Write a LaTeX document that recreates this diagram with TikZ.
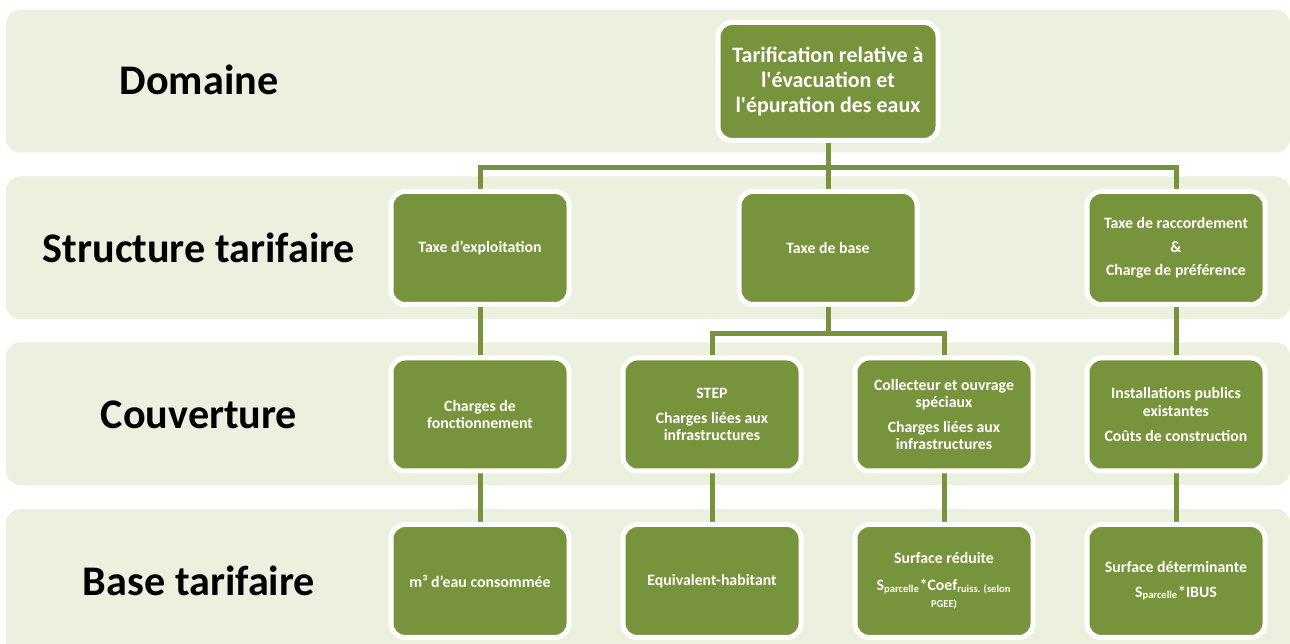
\documentclass[tikz,border=0pt]{standalone}
\usepackage{fontspec}
\setmainfont{Carlito}
\usetikzlibrary{positioning}

\definecolor{olive}{HTML}{77933C}
\definecolor{paleolive}{HTML}{EBF1DE}

\pgfdeclarelayer{bands}
\pgfdeclarelayer{links}
\pgfsetlayers{bands,links,main}

\begin{document}
\begin{tikzpicture} [
    thick,
    node distance=3.33cm,
  ]

  \tikzstyle{box} = [
    rectangle,
    rounded corners=8pt,
    minimum width=3.56cm,
    minimum height=2.26cm,
    align=center,
    fill=olive,
    draw=white,
    line width=0.1cm,
    text=white,
    font=\fontsize{9}{10}\selectfont\bfseries,
  ]
  \tikzstyle{topbox} = [
    box,
    minimum width=4.4cm,
    minimum height=2.36cm,
    font=\fontsize{12.5}{14}\selectfont\bfseries,
  ]
  \tikzstyle{level} = [
    font=\fontsize{24}{28}\selectfont\bfseries,
  ]
  \tikzstyle{band} = [
    fill=paleolive,
    rounded corners=8pt,
  ]
  \tikzstyle{link} = [
    draw=olive,
    line width=0.1cm,
  ]

  \useasboundingbox (0,0) rectangle (25.8,12.88);

  \node[topbox]                                      (tarif)   at (16.56,11.25) {Tarification relative à\\l\textquotesingle évacuation et\\l\textquotesingle épuration des eaux};
  \node[box,below of=tarif]                          (base)    {Taxe de base};
  \node[box,left of=base, node distance=6.96cm]      (exploit) {Taxe d’exploitation};
  \node[box,right of=base, node distance=6.96cm]     (racc)    {Taxe de raccordement\\[3.5pt]\&\\[3.5pt]Charge de préférence};

  \node[box,below of=exploit]                        (fonct)   {Charges de\\fonctionnement};
  \node[box,below of=base, xshift=-2.32cm]           (step)    {STEP\\[4pt]Charges liées aux\\infrastructures};
  \node[box,below of=base, xshift=2.32cm]            (collect) {Collecteur et ouvrage\\spéciaux\\[4pt]Charges liées aux\\infrastructures};
  \node[box,below of=racc]                           (install) {Installations publics\\existantes\\[4pt]Coûts de construction};

  \node[box,below of=fonct]                          (volume)  {m³ d’eau consommée};
  \node[box,below of=step]                           (eh)      {Equivalent-habitant};
  \node[box,below of=collect]                        (reduite) {Surface réduite\\[5pt]S\textsubscript{parcelle}*Coef\textsubscript{ruiss. (selon}\\{\fontsize{6}{7}\selectfont PGEE)}};
  \node[box,below of=install]                        (determ)  {Surface déterminante\\[4pt]S\textsubscript{parcelle}*IBUS};

  \node[level]                     (domaine)   at (3.98,11.28)        {Domaine};
  \node[level]                     (structure) at (exploit -| domaine) {Structure tarifaire};
  \node[level]                     (couvert)   at (fonct -| domaine)   {Couverture};
  \node[level]                     (basetar)   at (volume -| domaine)  {Base tarifaire};

  \begin{pgfonlayer}{links}
    \path[link] (tarif.south) -- ++(0,-0.49) coordinate (split1) -| (exploit.north);
    \path[link] (split1) -| (racc.north);
    \path[link] (tarif) -- (base);
    \path[link] (base.south) -- ++(0,-0.53) coordinate (split2) -| (step.north);
    \path[link] (split2) -| (collect.north);
    \path[link] (exploit) -- (fonct);
    \path[link] (racc) -- (install);
    \path[link] (fonct) -- (volume);
    \path[link] (step) -- (eh);
    \path[link] (collect) -- (reduite);
    \path[link] (install) -- (determ);
  \end{pgfonlayer}

  \begin{pgfonlayer}{bands}
    \fill[band] (0.12,9.83) rectangle (25.8,12.68);
    \fill[band] (0.12,6.5)  rectangle (25.8,9.35);
    \fill[band] (0.12,3.18) rectangle (25.8,6.03);
    \fill[band] (0.12,-0.4) rectangle (25.8,2.7);
  \end{pgfonlayer}

\end{tikzpicture}
\end{document}
